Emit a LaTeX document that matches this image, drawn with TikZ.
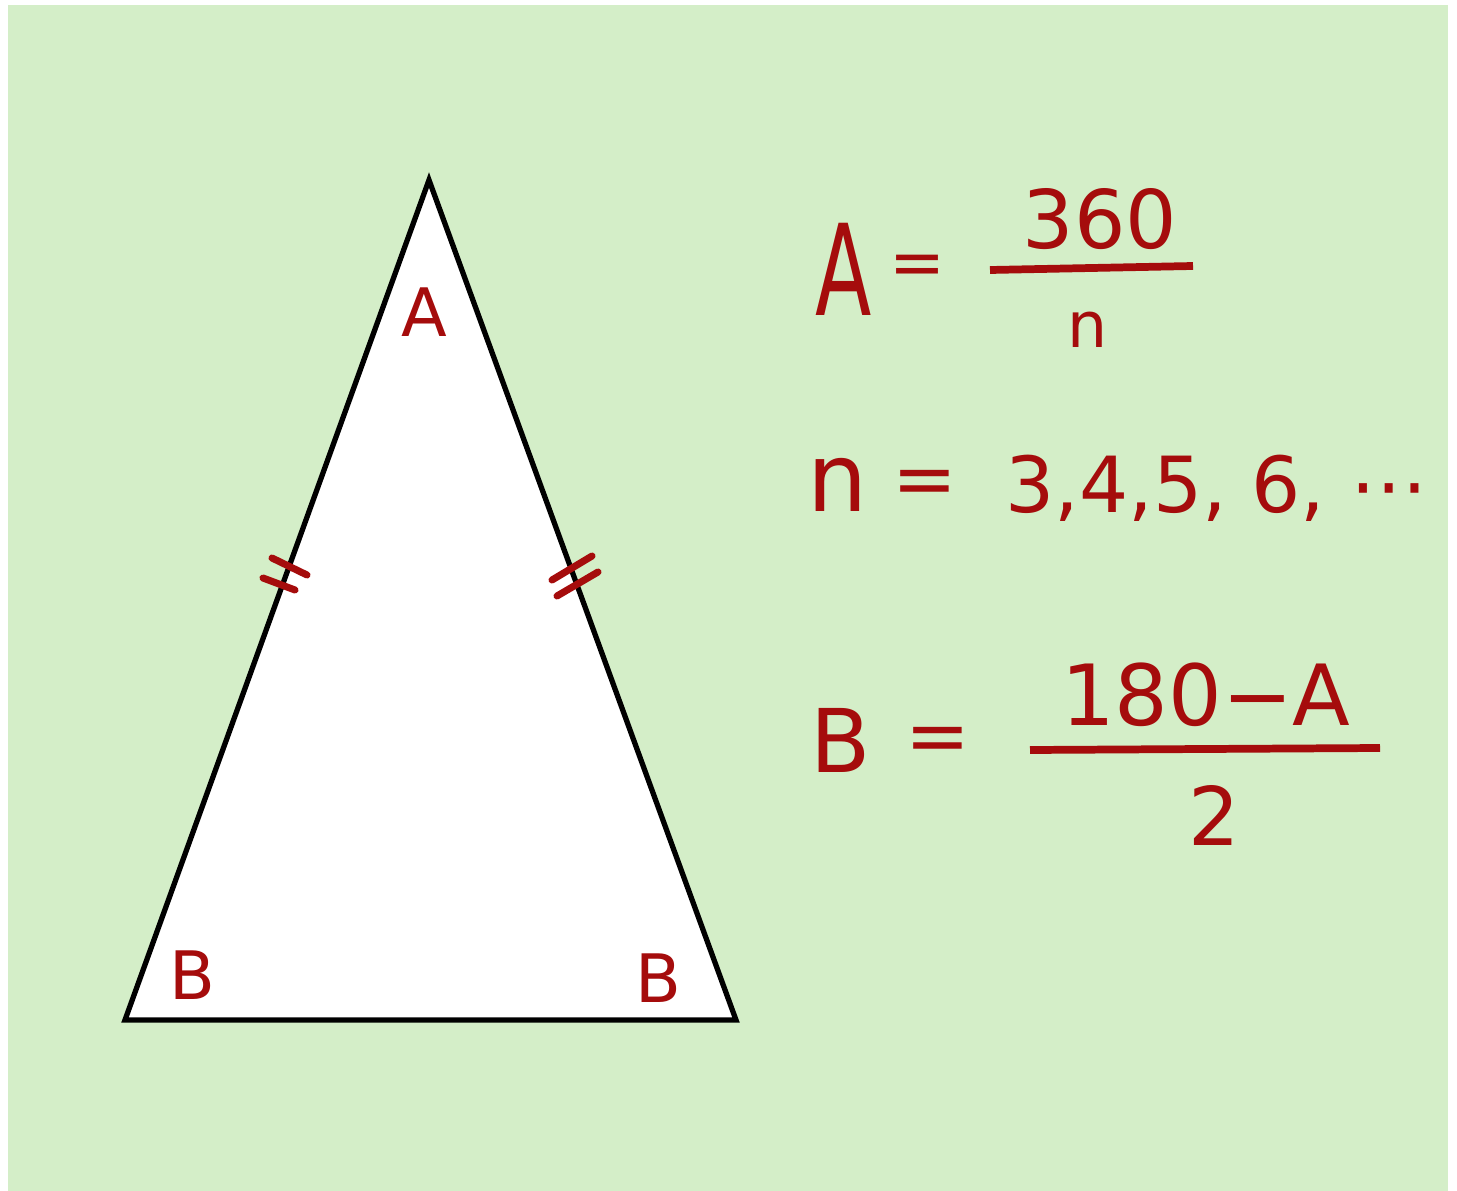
\documentclass[tikz,border=0pt]{standalone}
\usepackage{fontspec}
\setmainfont{DejaVu Sans}
\usetikzlibrary{positioning}
\definecolor{fundo}{RGB}{212,238,200}
\definecolor{tinta}{RGB}{165,12,12}

\begin{document}
\begin{tikzpicture}[x=0.01cm, y=-0.01cm,
    rotulo/.style={text=tinta, inner sep=0pt},
    risco/.style={draw=tinta, line width=2pt, line cap=round},
    traco/.style={draw=tinta, line width=2.2pt}]
    % Fundo
    \useasboundingbox (0,0) rectangle (1457,1191);
    \fill[fundo] (8,5) rectangle (1448,1191);
    % Triangulo isosceles
    \coordinate (topo) at (429,180);
    \coordinate (esq) at (125,1020);
    \coordinate (dir) at (736,1020);
    \draw[fill=white, line width=1.5pt] (topo) -- (esq) -- (dir) -- cycle;
    % Marcas de lados iguais
    \draw[risco] (272,558) -- (307,575);
    \draw[risco] (263,578) -- (295,590);
    \draw[risco] (552,580) -- (592,556);
    \draw[risco] (557,596) -- (598,572);
    % Angulos
    \node[rotulo, font=\fontsize{19}{19}\selectfont] (angA) at (424,312) {A};
    \node[rotulo, font=\fontsize{19}{19}\selectfont] (angBe) at (192,975) {B};
    \node[rotulo, font=\fontsize{19}{19}\selectfont] (angBd) at (658,978) {B};
    % A = 360/n
    \node[rotulo, font=\fontsize{36}{36}\selectfont, xscale=0.65, transform shape] (fA) at (844,269) {A};
    \node[rotulo, font=\fontsize{19}{19}\selectfont] (igual1) at (917,270) {=};
    \node[rotulo, font=\fontsize{23}{23}\selectfont] (num1) at (1100,219) {360};
    \draw[traco] (990,270) -- (1193,266);
    \node[rotulo, font=\fontsize{18}{18}\selectfont] (den1) at (1088,330) {n};
    % valores de n
    \node[rotulo, font=\fontsize{27}{27}\selectfont] (n2) at (838,485) {n};
    \node[rotulo, font=\fontsize{22}{22}\selectfont] (igual2) at (925,488) {=};
    \node[rotulo, font=\fontsize{22}{22}\selectfont, anchor=base west] (lista) at (1005,512) {3,4,5, 6, ⋯};
    % B = (180-A)/2
    \node[rotulo, font=\fontsize{25}{25}\selectfont] (fB) at (841,740) {B};
    \node[rotulo, font=\fontsize{22}{22}\selectfont] (igual3) at (938,745) {=};
    \node[rotulo, font=\fontsize{24}{24}\selectfont] (num3) at (1206,695) {180−A};
    \draw[traco] (1030,750) -- (1380,748);
    \node[rotulo, font=\fontsize{23}{23}\selectfont] (den3) at (1214,815) {2};
\end{tikzpicture}
\end{document}
